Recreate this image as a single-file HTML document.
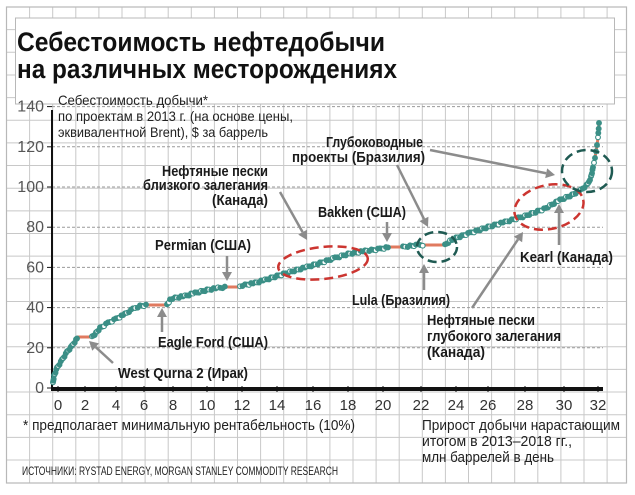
<!DOCTYPE html>
<html><head><meta charset="utf-8"><style>
html,body{margin:0;padding:0;background:#fff;}
svg{display:block;}
text{font-family:"Liberation Sans Narrow","Liberation Sans",sans-serif;}
</style></head><body>
<svg id="s" width="635" height="495" viewBox="0 0 635 495" xmlns="http://www.w3.org/2000/svg">
<rect width="635" height="495" fill="#fff"/>
<g id="grid" stroke="#c8c8c8" stroke-width="1"></g>
<rect x="6.5" y="7" width="620" height="476" fill="none" stroke="#b8b8b8" stroke-width="1.2"/>
<rect x="15.5" y="18" width="599" height="86" fill="#fff" stroke="#b8b8b8" stroke-width="1"/>
<text x="17" y="51" font-size="27" font-weight="bold" fill="#111" textLength="368" lengthAdjust="spacingAndGlyphs">Себестоимость нефтедобычи</text>
<text x="17" y="78" font-size="27" font-weight="bold" fill="#111" textLength="380" lengthAdjust="spacingAndGlyphs">на различных месторождениях</text>
<g id="dash" stroke="#9a9a9a" stroke-width="1" stroke-dasharray="3,2"></g>
<g id="yl" font-size="16" fill="#555"></g>
<g font-size="14" fill="#222">
<text x="58" y="105" textLength="150" lengthAdjust="spacingAndGlyphs">Себестоимость добычи*</text>
<text x="58" y="121" textLength="235" lengthAdjust="spacingAndGlyphs">по проектам в 2013 г. (на основе цены,</text>
<text x="58" y="137" textLength="210" lengthAdjust="spacingAndGlyphs">эквивалентной Brent), $ за баррель</text>
</g>
<line x1="52" y1="110" x2="52" y2="389" stroke="#111" stroke-width="2"/>
<line x1="51" y1="389" x2="603" y2="389" stroke="#111" stroke-width="4"/>
<g id="xl" font-size="15" fill="#333" text-anchor="middle"></g>
<g id="curve"></g>
<g fill="none" stroke-width="2.5" stroke-dasharray="9,5">
<ellipse cx="323" cy="263" rx="45" ry="16" stroke="#cc3530" transform="rotate(-6 323 263)"/>
<ellipse cx="437" cy="247" rx="20" ry="15" stroke="#1f5a52"/>
<ellipse cx="549" cy="207" rx="35" ry="22" stroke="#cc3530" transform="rotate(-12 549 207)"/>
<ellipse cx="587" cy="171" rx="25" ry="21" stroke="#1f5a52"/>
</g>
<g id="arr" stroke="#8c8c8c" fill="#8c8c8c" stroke-width="2.5"></g>
<g font-size="15" font-weight="bold" fill="#1a1a1a" lengthAdjust="spacingAndGlyphs">
<text x="118" y="378" textLength="130" lengthAdjust="spacingAndGlyphs">West Qurna 2 (Ирак)</text>
<text x="158" y="347" textLength="110" lengthAdjust="spacingAndGlyphs">Eagle Ford (США)</text>
<text x="155" y="250" textLength="96" lengthAdjust="spacingAndGlyphs">Permian (США)</text>
<text x="162" y="176" textLength="106" lengthAdjust="spacingAndGlyphs">Нефтяные пески</text>
<text x="143" y="190" textLength="125" lengthAdjust="spacingAndGlyphs">близкого залегания</text>
<text x="212" y="205" textLength="56" lengthAdjust="spacingAndGlyphs">(Канада)</text>
<text x="318" y="217" textLength="88" lengthAdjust="spacingAndGlyphs">Bakken (США)</text>
<text x="326" y="147" textLength="97" lengthAdjust="spacingAndGlyphs">Глубоководные</text>
<text x="292" y="162" textLength="133" lengthAdjust="spacingAndGlyphs">проекты (Бразилия)</text>
<text x="352" y="305" textLength="98" lengthAdjust="spacingAndGlyphs">Lula (Бразилия)</text>
<text x="520" y="262" textLength="93" lengthAdjust="spacingAndGlyphs">Kearl (Канада)</text>
<text x="427" y="325" textLength="108" lengthAdjust="spacingAndGlyphs">Нефтяные пески</text>
<text x="427" y="341" textLength="134" lengthAdjust="spacingAndGlyphs">глубокого залегания</text>
<text x="427" y="357" textLength="58" lengthAdjust="spacingAndGlyphs">(Канада)</text>
</g>
<g font-size="15" fill="#222">
<text x="23" y="430" textLength="332" lengthAdjust="spacingAndGlyphs">* предполагает минимальную рентабельность (10%)</text>
<text x="422" y="430" textLength="198" lengthAdjust="spacingAndGlyphs">Прирост добычи нарастающим</text>
<text x="422" y="446" textLength="150" lengthAdjust="spacingAndGlyphs">итогом в 2013–2018 гг.,</text>
<text x="422" y="462" textLength="132" lengthAdjust="spacingAndGlyphs">млн баррелей в день</text>
</g>
<text x="22" y="475" font-size="12" fill="#222" textLength="316" lengthAdjust="spacingAndGlyphs">ИСТОЧНИКИ: RYSTAD ENERGY, MORGAN STANLEY COMMODITY RESEARCH</text>
</svg>
<script>
var NS="http://www.w3.org/2000/svg";
function el(p,t,a,txt){var e=document.createElementNS(NS,t);for(var k in a)e.setAttribute(k,a[k]);if(txt!==undefined)e.textContent=txt;document.getElementById(p).appendChild(e);return e;}
for(var k=1;k<27;k++){var x=6.5+23.1*k;el("grid","line",{x1:x,y1:7,x2:x,y2:483});}
for(var k=1;k<21;k++){var y=7+22.65*k;el("grid","line",{x1:6.5,y1:y,x2:626.5,y2:y});}
for(var v=0;v<=140;v+=20){var y=388-2.01*v;
 if(v>0)el("dash","line",{x1:52,y1:y,x2:603,y2:y});
 el("dash","line",{x1:47,y1:y,x2:52,y2:y,"stroke-dasharray":"none","stroke":"#111"});
 el("yl","text",{x:44,y:y+5,"text-anchor":"end"},String(v));}
var xs=[58,85,116,144,173,207,242,277,313,348,383,421,456,488,525,564,598];
for(var i=0;i<xs.length;i++){el("xl","text",{x:xs[i],y:410},String(i*2));
 el("dash","line",{x1:xs[i],y1:386,x2:xs[i],y2:392,"stroke-dasharray":"none","stroke":"#111"});}
var P=[[53,383],[54,376],[57,368],[62,360],[67,352],[72,346],[76,340],[78,337],[92,337,1],[96,333],[100,328],[108,323],[116,319],[125,314],[133,309],[140,306],[148,305],[167,305,1],[170,300],[175,298],[185,296],[195,293],[207,290],[218,288],[227,287],[240,287,1],[245,285],[255,283],[265,280],[277,276],[290,272],[307,267],[320,263],[335,258],[348,254],[365,251],[380,249],[390,247],[403,247,1],[410,246],[418,245],[425,245],[445,245,1],[450,241],[456,238],[470,233],[488,227],[505,222],[525,216],[544,209],[560,200],[572,195],[581,190],[588,184],[591,177],[593,168],[596,152],[598,138],[599,123]];
var d="";for(var i=0;i<P.length;i++)d+=(i?"L":"M")+P[i][0]+","+P[i][1];
el("curve","path",{d:d,fill:"none",stroke:"#e07a5f","stroke-width":3});
var mk=[];
for(var i=1;i<P.length;i++){if(P[i][2])continue;var a=P[i-1],b=P[i];
 var L=Math.hypot(b[0]-a[0],b[1]-a[1]);var n=Math.max(1,Math.round(L/2.2));
 if(i>=56)n=Math.max(1,Math.round(L/6));
 for(var j=0;j<n;j++){var t=j/n;mk.push([a[0]+(b[0]-a[0])*t,a[1]+(b[1]-a[1])*t+((j*7)%3-1)*0.7]);}}
mk.push([599,123]);
for(var i=0;i<mk.length;i++){var w=(i%4==0);
 el("curve","circle",{cx:mk[i][0].toFixed(1),cy:mk[i][1].toFixed(1),r:2.4,fill:w?"#fff":"#3b8f86",stroke:"#3b8f86","stroke-width":1.1});}
function arrow(x1,y1,x2,y2){var ang=Math.atan2(y2-y1,x2-x1),h=9,w=5;
 var bx=x2-h*Math.cos(ang),by=y2-h*Math.sin(ang);
 el("arr","line",{x1:x1,y1:y1,x2:bx,y2:by});
 var px=-Math.sin(ang)*w,py=Math.cos(ang)*w;
 el("arr","polygon",{points:x2+","+y2+" "+(bx+px)+","+(by+py)+" "+(bx-px)+","+(by-py),stroke:"none"});}
arrow(113,363,89,341);arrow(162,332,162,308);arrow(227,256,227,281);arrow(280,192,307,240);
arrow(387,222,387,242);arrow(397,165,428,227);arrow(430,150,555,175);arrow(424,290,424,264);
arrow(559,245,559,204);arrow(472,308,523,232);
</script>
</body></html>
